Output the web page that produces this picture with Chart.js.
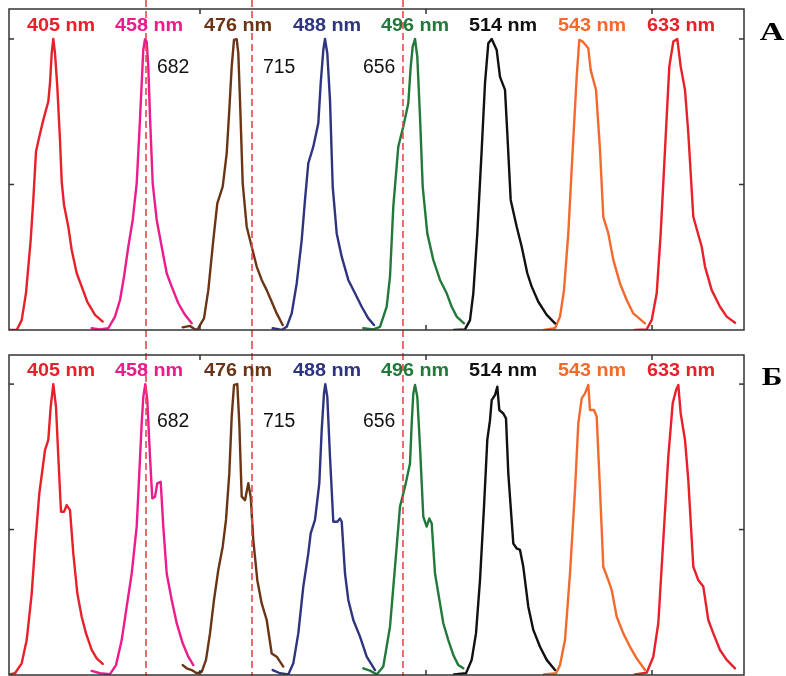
<!DOCTYPE html>
<html><head><meta charset="utf-8">
<script src="https://cdn.jsdelivr.net/npm/chart.js@4.4.1/dist/chart.umd.min.js"></script>
<style>
html,body{margin:0;padding:0;background:#fff;width:786px;height:676px;overflow:hidden}
canvas{position:absolute;left:0}
#cA{top:0}
#cB{top:342px}
</style></head>
<body>
<canvas id="cA" width="786" height="342"></canvas>
<canvas id="cB" width="786" height="334"></canvas>
<script>
// ---- categories / labels ----
const laserLabels = ['405 nm','458 nm','476 nm','488 nm','496 nm','514 nm','543 nm','633 nm'];
const laserColors = ['#e8202a','#ec1c8c','#6b3515','#2e3480','#23793a','#111111','#f26a2e','#e8202a'];
const markerX = [146, 252, 403];
const markerText = ['682', '715', '656'];
const xTicks = [200, 426, 652];
const yTicks = [0.5, 1];

// ---- panel A series ----
const a405x = [6.7,16.7,21.7,26,30.7,33.3,36,39.3,43.3,48.3,50,51.7,53.3,55,57.3,60,61.7,64,68.3,71.7,76.7,81.7,87.3,95,102.7];
const a405y = [0,0,0.034,0.127,0.31,0.447,0.613,0.664,0.722,0.785,0.848,0.951,1.0,0.951,0.836,0.653,0.51,0.43,0.355,0.275,0.195,0.149,0.097,0.052,0.029];
const a458x = [91.7,100,108.3,115,120,124,128.3,132.7,136.7,139.3,141.7,143.3,145,146.7,148.3,150,152.7,156.7,161.7,166.7,171.7,178.3,185,191.7];
const a458y = [0.006,0.002,0.006,0.046,0.103,0.183,0.286,0.378,0.504,0.676,0.848,0.962,0.999,0.991,0.905,0.733,0.504,0.378,0.286,0.195,0.149,0.092,0.052,0.023];
const a476x = [182.7,190,193.3,197.3,200,204,208.3,213.3,217.3,222.7,226.7,229.3,231.7,234,236.7,238.3,240,242.7,246.7,251.7,256.7,261.7,266.7,271.7,276.7,282.7];
const a476y = [0.009,0.014,0.006,0,0.017,0.04,0.137,0.309,0.435,0.493,0.607,0.756,0.905,0.997,0.999,0.951,0.79,0.504,0.355,0.286,0.218,0.172,0.137,0.097,0.057,0.017];
const a488x = [272.7,281.7,286.7,291.7,296.7,301.7,305,308.3,313.3,318.3,320.7,323.3,325,327.3,330,332.7,336.7,341.7,348.3,355,361.7,368.3,374];
const a488y = [0.006,0,0.011,0.057,0.16,0.309,0.447,0.573,0.63,0.71,0.848,0.962,1.0,0.951,0.79,0.493,0.332,0.252,0.172,0.126,0.08,0.04,0.017];
const a496x = [363.3,373.3,380,386.7,390,393.3,398.3,403.3,408.3,410.7,412.7,415,417.3,420,422.7,427.3,433.3,440,446.7,451.7,456.7,464];
const a496y = [0.006,0.002,0.011,0.08,0.183,0.424,0.63,0.699,0.779,0.905,0.974,1.0,0.939,0.733,0.493,0.332,0.241,0.172,0.126,0.08,0.046,0.023];
const a514x = [454,465,470,473.3,477.3,481.7,485,488.3,491.7,496.7,500,505,507.3,510.7,516.7,521.7,527.3,531.7,538.3,546.7,555];
const a514y = [0,0.002,0.034,0.126,0.332,0.619,0.848,0.985,1.0,0.962,0.87,0.825,0.676,0.447,0.355,0.286,0.195,0.149,0.097,0.052,0.023];
const a543x = [544,555,560,564,568.3,572.7,576.7,579.3,582.7,588.3,590.7,596,600,603.3,608.3,613.3,620,626.7,633.3,645];
const a543y = [0,0.006,0.046,0.137,0.332,0.619,0.87,0.997,0.991,0.968,0.893,0.825,0.619,0.389,0.332,0.241,0.16,0.103,0.057,0.023];
const a633x = [635,646.7,651.7,656.7,660.7,665,669.3,673.3,677.3,680.7,685,688.3,693.3,701.7,705,711.7,720,726.7,735];
const a633y = [0,0.002,0.034,0.126,0.332,0.619,0.905,0.991,1.0,0.905,0.825,0.676,0.389,0.286,0.218,0.137,0.08,0.046,0.025];

// ---- panel Б series ----
const b405x = [6.7,15,21.7,26.7,31.7,35,39.3,45,48.3,50.7,53.3,56,58.3,61,64,66.7,70,73.3,77.3,81.7,86,91.7,96.7,102.7];
const b405y = [0,0.006,0.04,0.12,0.28,0.441,0.624,0.773,0.808,0.922,1.0,0.922,0.751,0.561,0.561,0.584,0.567,0.418,0.281,0.2,0.143,0.086,0.057,0.038];
const b458x = [91.7,100,110,116,121.7,126.7,131.7,136.7,139.3,141.7,143.3,145.3,147.3,150,152.3,155,157.3,160.7,163.3,166.7,171.7,176.7,182.7,188.3,193.3];
const b458y = [0.014,0.006,0.003,0.034,0.12,0.235,0.349,0.51,0.693,0.865,0.956,1.0,0.945,0.75,0.607,0.613,0.659,0.664,0.51,0.349,0.258,0.178,0.109,0.063,0.034];
const b476x = [182.7,186.7,191.7,196.7,201.7,206,210,214,218.3,222.7,226,229.3,231.7,234,237.3,239.3,241.7,245,248.3,250.7,253.3,257.3,261.7,266.7,271.7,276.7,283.3];
const b476y = [0.034,0.023,0.017,0.006,0.011,0.052,0.143,0.258,0.361,0.441,0.533,0.693,0.888,0.997,1.0,0.865,0.613,0.601,0.659,0.613,0.464,0.326,0.246,0.189,0.074,0.063,0.029];
const b488x = [272.7,280,288.3,293.3,298.3,303.3,308.3,310.7,315,319.3,321.7,324,325.3,327.3,330,333.3,337.3,340,341.7,345,348.3,353.3,360,366.7,375];
const b488y = [0.017,0.006,0.002,0.04,0.143,0.304,0.418,0.487,0.533,0.659,0.842,0.968,1.0,0.956,0.75,0.527,0.527,0.538,0.527,0.349,0.258,0.189,0.132,0.063,0.017];
const b496x = [363.3,370,376.7,383.3,390,395,400,405,410,411.7,413.3,415,417.3,420,423.3,426.7,429.3,431.7,435,438.3,443.3,448.3,453.3,458.3,463.3];
const b496y = [0.023,0.015,0.002,0.029,0.166,0.372,0.579,0.647,0.727,0.865,0.968,0.997,0.956,0.785,0.544,0.51,0.538,0.521,0.349,0.281,0.178,0.12,0.069,0.034,0.023];
const b514x = [454,466,471.7,476,480,484,487.3,490,491.7,495,497.3,499.3,503.3,506,508.3,513.3,516.7,520,523.3,528.3,533.3,540,546.7,555];
const b514y = [0.002,0.006,0.052,0.143,0.326,0.578,0.808,0.876,0.945,0.962,0.991,0.911,0.899,0.882,0.693,0.452,0.435,0.43,0.372,0.235,0.155,0.097,0.052,0.017];
const b543x = [544,556,560,565,570,575,578.3,581.7,585,588.3,590,594,596.7,600,603.3,608.3,611.7,616.7,623.3,630,636.7,645];
const b543y = [0.002,0.006,0.034,0.12,0.349,0.636,0.865,0.951,0.968,0.997,0.911,0.911,0.888,0.636,0.372,0.326,0.292,0.2,0.143,0.097,0.057,0.017];
const b633x = [635,646.7,653.3,658.3,663.3,668.3,672.7,676,678.3,680.7,685,688.3,693.3,698.3,703.3,708.3,713.3,720,726.7,735];
const b633y = [0.002,0.008,0.063,0.178,0.464,0.75,0.934,0.979,0.997,0.899,0.808,0.67,0.372,0.326,0.304,0.189,0.143,0.086,0.052,0.023];

const seriesA = [[a405x,a405y],[a458x,a458y],[a476x,a476y],[a488x,a488y],[a496x,a496y],[a514x,a514y],[a543x,a543y],[a633x,a633y]];
const seriesB = [[b405x,b405y],[b458x,b458y],[b476x,b476y],[b488x,b488y],[b496x,b496y],[b514x,b514y],[b543x,b543y],[b633x,b633y]];

// ---- layout (not data) ----
const labelCenters = [61,149,238,327,415,503,592,681];
const markerTextX = [157,263,363];

function drawStretched(ctx, text, x, y, sx, align){
  ctx.save();
  ctx.translate(x, y);
  ctx.scale(sx, 1);
  ctx.textAlign = align;
  ctx.textBaseline = 'alphabetic';
  ctx.fillText(text, 0, 0);
  ctx.restore();
}

const decor = {
  id: 'decor',
  afterDatasetsDraw(chart, args, o){
    const ctx = chart.ctx, a = chart.chartArea, x = chart.scales.x, y = chart.scales.y;
    ctx.save();
    // dashed markers spanning whole canvas height
    ctx.strokeStyle = '#e8474a';
    ctx.lineWidth = 1.6;
    ctx.setLineDash([7,4]);
    markerX.forEach(v => {
      const px = Math.round(x.getPixelForValue(v));
      ctx.beginPath(); ctx.moveTo(px, 0); ctx.lineTo(px, chart.height); ctx.stroke();
    });
    ctx.setLineDash([]);
    // frame
    ctx.strokeStyle = '#333';
    ctx.lineWidth = 1.5;
    ctx.strokeRect(a.left, a.top, a.right - a.left, a.bottom - a.top);
    // inward ticks
    const seg = (x1,y1,x2,y2) => { ctx.beginPath(); ctx.moveTo(x1,y1); ctx.lineTo(x2,y2); ctx.stroke(); };
    xTicks.forEach(v => { const px = x.getPixelForValue(v); seg(px, a.top, px, a.top + 5); seg(px, a.bottom, px, a.bottom - 5); });
    yTicks.forEach(v => { const py = y.getPixelForValue(v); seg(a.left, py, a.left + 5, py); seg(a.right, py, a.right - 5, py); });
    // laser labels
    ctx.font = 'bold 18px "Liberation Sans", Arial, sans-serif';
    laserLabels.forEach((t, i) => {
      ctx.fillStyle = laserColors[i];
      drawStretched(ctx, t, x.getPixelForValue(labelCenters[i]), a.top + o.labelDy, 1.1, 'center');
    });
    // marker numbers
    ctx.font = '20px "Liberation Sans", Arial, sans-serif';
    ctx.fillStyle = '#111';
    markerText.forEach((t, i) => {
      drawStretched(ctx, t, x.getPixelForValue(markerTextX[i]), a.top + o.numDy, 0.97, 'left');
    });
    // panel letter
    ctx.font = 'bold 26px "Liberation Serif", "Times New Roman", serif';
    ctx.fillStyle = '#000';
    drawStretched(ctx, o.letter, 772, a.top + o.letterDy, o.letterSx, 'center');
    ctx.restore();
  }
};

function makeChart(id, series, pad, ymax, opts){
  const datasets = series.map((s, i) => ({
    data: s[0].map((xv, k) => ({x: xv, y: s[1][k]})),
    borderColor: laserColors[i],
    borderWidth: 2.4,
    borderJoinStyle: 'round',
    borderCapStyle: 'round',
    pointRadius: 0,
    tension: 0,
    fill: false
  }));
  return new Chart(document.getElementById(id), {
    type: 'line',
    data: { datasets },
    options: {
      responsive: false,
      animation: false,
      devicePixelRatio: 1,
      layout: { padding: pad },
      plugins: { legend: {display:false}, tooltip: {enabled:false}, decor: opts },
      scales: {
        x: { type: 'linear', min: 9, max: 744, display: false },
        y: { type: 'linear', min: 0, max: ymax, display: false }
      }
    },
    plugins: [decor]
  });
}

makeChart('cA', seriesA, {left: 9, top: 9, right: 42, bottom: 12}, 1.103,
  {labelDy: 22, numDy: 64, letter: 'A', letterDy: 31, letterSx: 1.3});
makeChart('cB', seriesB, {left: 9, top: 13, right: 42, bottom: 1}, 1.1,
  {labelDy: 21, numDy: 72, letter: 'Б', letterDy: 30, letterSx: 1.2});
</script>
</body></html>
